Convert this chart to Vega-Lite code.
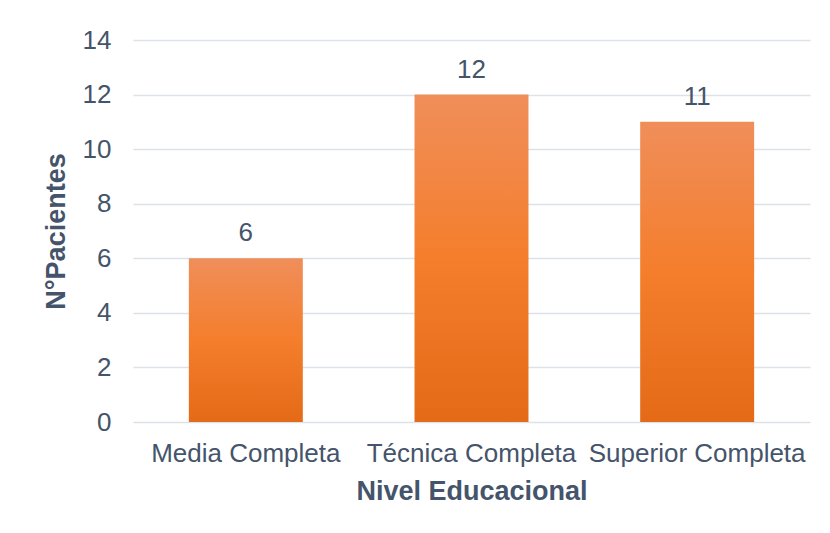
{
  "$schema": "https://vega.github.io/schema/vega-lite/v6.json",
  "width": 677,
  "height": 382,
  "autosize": "none",
  "padding": {"left": 133, "top": 40, "right": 20, "bottom": 111},
  "background": "white",
  "config": {
    "view": {"stroke": null},
    "font": "Liberation Sans",
    "axis": {"labelFont": "Liberation Sans", "titleFont": "Liberation Sans"}
  },
  "data": {
    "values": [
      {"nivel": "Media Completa", "n": 6},
      {"nivel": "Técnica Completa", "n": 12},
      {"nivel": "Superior Completa", "n": 11}
    ]
  },
  "encoding": {
    "x": {
      "field": "nivel",
      "type": "nominal",
      "sort": null,
      "scale": {"paddingInner": 0.495, "paddingOuter": 0.2475},
      "axis": {
        "title": "Nivel Educacional",
        "labelAngle": 0,
        "labelFontSize": 26,
        "labelColor": "#44546A",
        "labelPadding": 18,
        "titleFontSize": 27,
        "titleFontWeight": "bold",
        "titleColor": "#44546A",
        "titlePadding": 12,
        "domain": false,
        "ticks": false,
        "labelLimit": 400
      }
    },
    "y": {
      "field": "n",
      "type": "quantitative",
      "scale": {"domain": [0, 14]},
      "axis": {
        "title": "N°Pacientes",
        "values": [0, 2, 4, 6, 8, 10, 12, 14],
        "labelFontSize": 26,
        "labelColor": "#44546A",
        "labelPadding": 22,
        "titleFontSize": 27,
        "titleFontWeight": "bold",
        "titleColor": "#44546A",
        "titlePadding": 12,
        "domain": false,
        "ticks": false,
        "gridColor": "#DDE1E8",
        "gridWidth": 1.5
      }
    }
  },
  "layer": [
    {
      "mark": {
        "type": "bar",
        "color": {
          "gradient": "linear",
          "x1": 0, "y1": 0, "x2": 0, "y2": 1,
          "stops": [
            {"offset": 0, "color": "#F08E5A"},
            {"offset": 0.5, "color": "#F47E2C"},
            {"offset": 1, "color": "#E46A17"}
          ]
        }
      }
    },
    {
      "mark": {
        "type": "text",
        "baseline": "bottom",
        "dy": -12,
        "fontSize": 26,
        "color": "#44546A"
      },
      "encoding": {"text": {"field": "n", "type": "quantitative"}}
    }
  ]
}
